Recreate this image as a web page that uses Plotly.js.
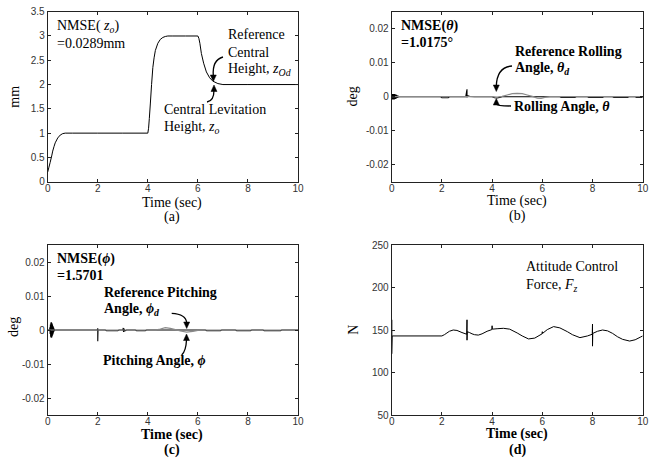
<!DOCTYPE html>
<html><head><meta charset="utf-8">
<script src="https://cdn.plot.ly/plotly-3.0.1.min.js"></script>
<style>html,body{margin:0;padding:0;background:#fff}#chart{width:664px;height:461px}</style>
</head><body><div id="chart"></div>
<script>
// ---------- (a) central levitation height z_o (mm) ----------
var zT = [0, 0.05, 0.1, 0.16, 0.2, 0.25, 0.3, 0.4, 0.5, 0.6, 0.7, 1, 2, 3, 4, 4.03, 4.06, 4.1, 4.15, 4.2, 4.25, 4.3, 4.4, 4.5, 4.6, 4.7, 4.8, 5, 5.5, 6, 6.04, 6.08, 6.14, 6.23, 6.34, 6.47, 6.6, 6.8, 7, 8, 9, 10];
var zV = [0.2, 0.3, 0.4, 0.53, 0.63, 0.72, 0.8, 0.9, 0.96, 0.99, 1.0, 1.0, 1.0, 1.0, 1.0, 1.1, 1.3, 1.6, 2.0, 2.35, 2.55, 2.7, 2.85, 2.93, 2.97, 2.99, 3.0, 3.0, 3.0, 3.0, 2.95, 2.85, 2.64, 2.44, 2.26, 2.14, 2.07, 2.02, 2.0, 2.0, 2.0, 2.0];

// ---------- (b) rolling angle theta and reference theta_d (deg) ----------
var thBlobT = [0, 0.01, 0.02, 0.03, 0.04, 0.05, 0.06, 0.07, 0.08, 0.09, 0.10, 0.11, 0.12, 0.13, 0.14, 0.15, 0.16, 0.17, 0.18, 0.19, 0.20, 0.21, 0.22, 0.23, 0.24, 0.25, 0.26, 0.27, 0.28, 0.29, 0.30];
var thBlobV = [0, 0.0006, -0.0008, 0.0008, -0.0008, 0.0008, -0.0008, 0.0008, -0.0008, 0.0008, -0.0008, 0.0008, -0.0007, 0.0007, -0.0007, 0.0006, -0.0006, 0.0006, -0.0005, 0.0005, -0.0004, 0.0004, -0.0004, 0.0003, -0.0003, 0.0003, -0.0002, 0.0002, -0.0001, 0.0001, 0];
var thT = [0.3, 1.95, 2.0, 2.25, 2.3, 2.95, 3.0, 3.0, 3.02, 3.1, 3.3, 4.0, 4.1, 4.2, 4.3, 4.4, 6.7, 6.75, 7.3, 7.35, 7.8, 7.85, 8.4, 8.45, 8.8, 8.85, 9.4, 9.45, 9.7, 9.75, 10];
var thV = [0, 0, -0.0003, -0.0003, 0, 0, 0.0022, -0.0002, 0.0003, 0.0001, 0, 0, -0.0003, -0.0004, -0.0002, 0, 0, -0.0002, -0.0002, 0, 0, -0.0002, -0.0002, 0, 0, -0.0002, -0.0002, 0, 0, -0.0002, -0.0002];
var tdT = [0, 4.0, 4.2, 4.4, 4.6, 4.8, 5.0, 5.2, 5.4, 5.6, 5.8, 5.95, 6.1, 6.3, 10];
var tdV = [0, 0, -0.0001, 0.0001, 0.0005, 0.0009, 0.0010, 0.0009, 0.0005, 0.0001, -0.0004, -0.0005, -0.0002, 0, 0];

// ---------- (c) pitching angle phi and reference phi_d (deg) ----------
var phBlobT = [0, 0.08, 0.09, 0.10, 0.11, 0.12, 0.13, 0.14, 0.15, 0.16, 0.17, 0.18, 0.19, 0.20, 0.21, 0.22, 0.23, 0.24, 0.25, 0.26, 0.27, 0.28, 0.29, 0.30];
var phBlobV = [0, 0, 0.0008, -0.0012, 0.0016, -0.0020, 0.0022, -0.0023, 0.0023, -0.0022, 0.0020, -0.0018, 0.0016, -0.0014, 0.0012, -0.0010, 0.0008, -0.0006, 0.0004, -0.0003, 0.0002, -0.0001, 0, 0];
var phT = [0.3, 1.98, 2.0, 2.0, 2.01, 2.1, 2.3, 2.35, 2.8, 2.85, 3.0, 3.02, 3.03, 3.05, 3.08, 3.15, 3.5, 3.55, 3.9, 3.95, 6.3, 6.35, 6.9, 6.95, 7.5, 7.55, 8.1, 8.15, 8.6, 8.65, 9.3, 9.35, 10];
var phV = [0, 0, 0.0005, -0.0033, 0, 0, 0, -0.0002, -0.0002, 0, 0, 0.0006, -0.0006, 0.0004, -0.0003, 0, 0, -0.0002, -0.0002, 0, 0, -0.0002, -0.0002, 0, 0, -0.0002, -0.0002, 0, 0, -0.0002, -0.0002, 0, 0];
var pdT = [0, 4.3, 4.5, 4.7, 4.9, 5.1, 5.3, 5.55, 5.8, 6.0, 6.2, 10];
var pdV = [0, 0, 0.0003, 0.0007, 0.0005, 0.0001, -0.0003, -0.0006, -0.0004, -0.0001, 0, 0];

// ---------- (d) attitude control force F_z (N) ----------
var fT = [0, 0, 0, 0.02, 2, 2.1, 2.2, 2.3, 2.45, 2.6, 2.8, 2.99, 3.0, 3.0, 3.01, 3.1, 3.2, 3.3, 3.45, 3.6, 3.8, 3.99, 4.0, 4.01, 4.2, 4.45, 4.7, 5.0, 5.2, 5.45, 5.7, 5.99, 6.0, 6.01, 6.2, 6.45, 6.7, 7.0, 7.2, 7.5, 7.8, 7.99, 8.0, 8.0, 8.01, 8.2, 8.4, 8.6, 8.8, 9.0, 9.2, 9.48, 9.7, 9.9, 10];
var fV = [143, 162, 122, 143, 143, 144.5, 146.5, 148.5, 150, 149.5, 147, 145, 162, 138, 148, 147, 145.5, 144.5, 144, 145.5, 148.5, 150.5, 155, 151, 151.5, 152, 151, 146.5, 143, 139.5, 140.5, 145.5, 148, 146, 150.5, 154, 152.5, 148, 144.5, 141, 143, 145, 157, 131, 146, 148.5, 150, 149, 146, 142, 139, 137, 138.5, 141.5, 143];

// ---------- tick labels ----------
var xTicks = [0, 2, 4, 6, 8, 10];
var xTickText = ['0', '2', '4', '6', '8', '10'];
var zTicks = [0, 0.5, 1, 1.5, 2, 2.5, 3, 3.5];
var zTickText = ['0', '0.5', '1', '1.5', '2', '2.5', '3', '3.5'];
var angTicks = [-0.02, -0.01, 0, 0.01, 0.02];
var angTickText = ['-0.02', '-0.01', '0', '0.01', '0.02'];
var fTicks = [50, 100, 150, 200, 250];
var fTickText = ['50', '100', '150', '200', '250'];

var W = 664, H = 461;
function px(x) { return x / W; }
function py(y) { return 1 - y / H; }

var tickFont = {family: 'Liberation Sans, Arial, sans-serif', size: 10, color: '#333'};
function mkAxis(dom, anchor, range, tv, tt, isX) {
  return {domain: dom, anchor: anchor, range: range, tickvals: tv, ticktext: tt,
    ticks: 'inside', ticklen: 3, tickwidth: 1, tickcolor: '#222',
    showline: true, linecolor: '#222', linewidth: 1, mirror: 'ticks',
    ticklabelstandoff: isX ? -3 : 0,
    showgrid: false, zeroline: false, tickfont: tickFont, fixedrange: true};
}
var dxL = [px(47.7), px(298)], dxR = [px(391.7), px(642.7)];
var dyT = [py(181.7), py(11.7)], dyB = [py(415), py(245)];

function ln(c, w) { return {color: c, width: w, simplify: false}; }
var traces = [
  {x: zT, y: zV, xaxis: 'x', yaxis: 'y', mode: 'lines', line: ln('#000', 1)},
  {x: thBlobT, y: thBlobV, xaxis: 'x2', yaxis: 'y2', mode: 'lines', line: ln('#000', 1.2)},
  {x: thT, y: thV, xaxis: 'x2', yaxis: 'y2', mode: 'lines', line: ln('#000', 1.1)},
  {x: tdT, y: tdV, xaxis: 'x2', yaxis: 'y2', mode: 'lines', line: ln('#8a8a8a', 1.2)},
  {x: phBlobT, y: phBlobV, xaxis: 'x3', yaxis: 'y3', mode: 'lines', line: ln('#000', 1.2)},
  {x: phT, y: phV, xaxis: 'x3', yaxis: 'y3', mode: 'lines', line: ln('#000', 1.1)},
  {x: pdT, y: pdV, xaxis: 'x3', yaxis: 'y3', mode: 'lines', line: ln('#8a8a8a', 1.2)},
  {x: fT, y: fV, xaxis: 'x4', yaxis: 'y4', mode: 'lines', line: ln('#000', 1)}
];

var serif = 'Liberation Serif, Times New Roman, serif';
var anns = [];
function txt(x, y, s, opt) {
  opt = opt || {};
  anns.push({xref: 'paper', yref: 'paper', x: px(x), y: py(y), text: s, showarrow: false,
    xanchor: opt.xa || 'left', yanchor: 'middle', textangle: opt.rot || 0,
    font: {family: serif, size: opt.size || 14, color: '#000'}});
}
var shapes = [];
function curve(x0, y0, cx, cy, x1, y1) {
  shapes.push({type: 'path', xref: 'paper', yref: 'paper',
    path: 'M ' + px(x0) + ',' + py(y0) + ' Q ' + px(cx) + ',' + py(cy) + ' ' + px(x1) + ',' + py(y1),
    line: {color: '#000', width: 1.3}});
}
// arrowhead: tip at (x, y); dir = +1 pointing down, -1 pointing up
function head(x, y, dir) {
  var by = y - dir * 6.5;
  shapes.push({type: 'path', xref: 'paper', yref: 'paper',
    path: 'M ' + px(x) + ',' + py(y) + ' L ' + px(x - 3) + ',' + py(by) + ' L ' + px(x + 3) + ',' + py(by) + ' Z',
    fillcolor: '#000', line: {color: '#000', width: 0.5}});
}

// (a)
txt(55, 27, 'NMSE( <i>z<sub>o</sub></i>)');
txt(55, 43.5, '=0.0289mm');
txt(226, 35, 'Reference');
txt(226, 52.5, 'Central');
txt(226, 70, 'Height, <i>z<sub>Od</sub></i>');
txt(162, 110, 'Central Levitation');
txt(162, 127, 'Height, <i>z<sub>o</sub></i>');
curve(223, 57, 212, 60, 213.3, 76);
head(213.3, 81.5, 1);
curve(207, 102, 214, 101, 214, 90);
head(214, 85, -1);
txt(15, 96.7, 'mm', {xa: 'center', rot: -90});
txt(172, 203.5, 'Time (sec)', {xa: 'center'});
txt(172, 217, '(a)', {xa: 'center'});

// (b)
txt(399, 25.5, '<b>NMSE(<i>θ</i>)</b>');
txt(399, 42, '<b>=1.0175°</b>');
txt(513, 51.5, '<b>Reference Rolling</b>');
txt(513, 68.5, '<b>Angle, <i>θ<sub>d</sub></i></b>');
txt(512, 106.5, '<b>Rolling Angle, <i>θ</i></b>');
curve(512, 66, 497, 67, 496.3, 86);
head(496.3, 91.5, 1);
curve(511, 106, 497, 106, 496.3, 104);
head(496.3, 98.5, -1);
txt(352.7, 96.7, 'deg', {xa: 'center', rot: -90});
txt(517, 201, 'Time (sec)', {xa: 'center'});
txt(517, 215.5, '(b)', {xa: 'center'});

// (c)
txt(55, 258.5, '<b>NMSE(<i>ϕ</i>)</b>');
txt(55, 275, '<b>=1.5701</b>');
txt(101.5, 292.5, '<b>Reference Pitching</b>');
txt(101.5, 309.5, '<b>Angle, <i>ϕ<sub>d</sub></i></b>');
txt(100.5, 360.5, '<b>Pitching Angle, <i>ϕ</i></b>');
curve(171.7, 313.3, 186, 314, 186.7, 323);
head(186.7, 328.5, 1);
curve(181.7, 355, 186, 351, 186.5, 340);
head(186.5, 334, -1);
txt(13.3, 326.7, 'deg', {xa: 'center', rot: -90});
txt(172, 435, '<b>Time (sec)</b>', {xa: 'center'});
txt(172, 450, '<b>(c)</b>', {xa: 'center'});

// (d)
txt(523.5, 266.5, 'Attitude Control');
txt(523.5, 285, 'Force, <i>F<sub>z</sub></i>');
txt(352.7, 330, 'N', {xa: 'center', rot: -90});
txt(517, 434, '<b>Time (sec)</b>', {xa: 'center'});
txt(517, 450, '<b>(d)</b>', {xa: 'center'});

var layout = {
  width: W, height: H, margin: {l: 0, r: 0, t: 0, b: 0},
  paper_bgcolor: '#fff', plot_bgcolor: '#fff', showlegend: false,
  xaxis: mkAxis(dxL, 'y', [0, 10], xTicks, xTickText, true),
  yaxis: mkAxis(dyT, 'x', [0, 3.5], zTicks, zTickText, false),
  xaxis2: mkAxis(dxR, 'y2', [0, 10], xTicks, xTickText, true),
  yaxis2: mkAxis(dyT, 'x2', [-0.025, 0.025], angTicks, angTickText, false),
  xaxis3: mkAxis(dxL, 'y3', [0, 10], xTicks, xTickText, true),
  yaxis3: mkAxis(dyB, 'x3', [-0.025, 0.025], angTicks, angTickText, false),
  xaxis4: mkAxis(dxR, 'y4', [0, 10], xTicks, xTickText, true),
  yaxis4: mkAxis(dyB, 'x4', [50, 250], fTicks, fTickText, false),
  annotations: anns, shapes: shapes
};
Plotly.newPlot('chart', traces, layout, {displayModeBar: false, staticPlot: true});
</script></body></html>
